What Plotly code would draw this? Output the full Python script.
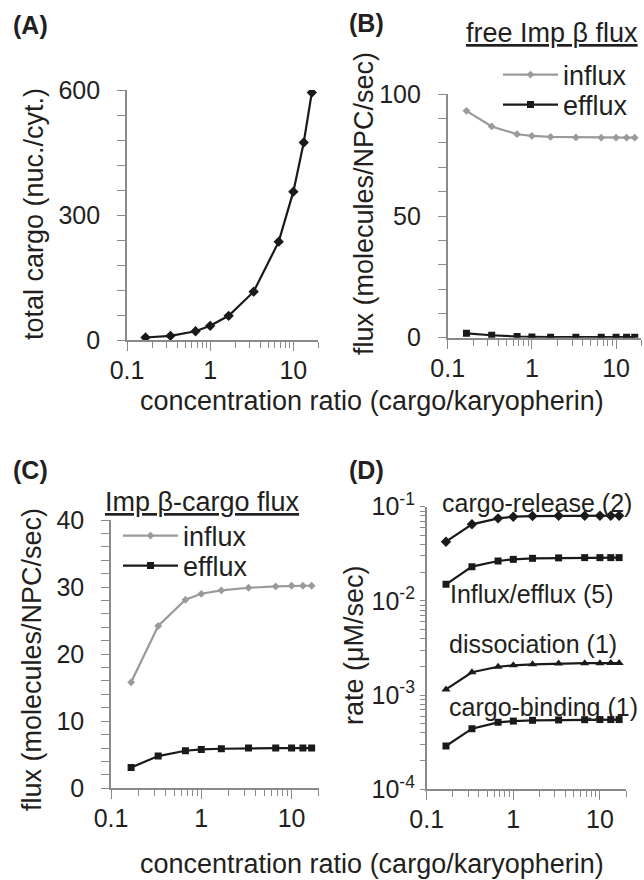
import plotly.graph_objects as go

# ---------------- data ----------------
ratio = [0.167, 0.333, 0.667, 1.0, 1.667, 3.333, 6.667, 10.0, 13.333, 16.667]

total_cargo = [6, 10, 21, 34, 58, 116, 236, 356, 474, 594]

free_influx = [93.2, 86.8, 83.6, 82.9, 82.5, 82.3, 82.2, 82.2, 82.2, 82.2]
free_efflux = [1.8, 1.0, 0.5, 0.3, 0.2, 0.2, 0.2, 0.2, 0.2, 0.2]

cargo_influx = [15.8, 24.2, 28.1, 29.0, 29.5, 29.9, 30.1, 30.2, 30.2, 30.2]
cargo_efflux = [3.1, 4.8, 5.6, 5.8, 5.9, 6.0, 6.0, 6.0, 6.0, 6.0]

rate_release = [0.0425, 0.065, 0.0752, 0.0783, 0.0796, 0.0800, 0.0802, 0.0803, 0.0803, 0.0803]
rate_influx_efflux = [0.0150, 0.0231, 0.0265, 0.0276, 0.0283, 0.0286, 0.0288, 0.0288, 0.0288, 0.0288]
rate_dissociation = [0.00115, 0.00175, 0.00200, 0.00207, 0.00212, 0.00216, 0.00218, 0.00218, 0.00219, 0.00219]
rate_binding = [0.000288, 0.00044, 0.000514, 0.00053, 0.00054, 0.000545, 0.000548, 0.00055, 0.00055, 0.00055]

x_ticks = [0.1, 1, 10]
x_ticktext = ["0.1", "1", "10"]
x_minor = [0.2, 0.3, 0.4, 0.5, 0.6, 0.7, 0.8, 0.9, 2, 3, 4, 5, 6, 7, 8, 9, 20]
d_ticks = [1e-4, 1e-3, 1e-2, 1e-1]
d_ticktext = ["10<sup>-4</sup>", "10<sup>-3</sup>", "10<sup>-2</sup>", "10<sup>-1</sup>"]
d_minor = [m * 10 ** e for e in (-4, -3, -2) for m in range(2, 10)]

# ---------------- styles ----------------
W, H = 644, 880
FONT = "Arial, 'Liberation Sans', sans-serif"
TXT = "#231f20"
AXC = "#8a8a8a"
BLACK = "#1a1a1a"
GRAY = "#9a9a9a"
TICK_SIZE = 25
TITLE_SIZE = 27


def px(x):
    return x / W


def py(y):
    return 1 - y / H


fig = go.Figure()

# Panel A
fig.add_trace(go.Scatter(x=ratio, y=total_cargo, mode="lines+markers", xaxis="x", yaxis="y",
                         line=dict(color=BLACK, width=2.2),
                         marker=dict(symbol="diamond", size=8, color=BLACK), showlegend=False))
# Panel B
fig.add_trace(go.Scatter(x=ratio, y=free_influx, mode="lines+markers", xaxis="x2", yaxis="y2",
                         name="influx", legend="legend",
                         line=dict(color=GRAY, width=2.2),
                         marker=dict(symbol="diamond", size=6, color=GRAY)))
fig.add_trace(go.Scatter(x=ratio, y=free_efflux, mode="lines+markers", xaxis="x2", yaxis="y2",
                         name="efflux", legend="legend2",
                         line=dict(color=BLACK, width=2.2),
                         marker=dict(symbol="square", size=7, color=BLACK)))
# Panel C
fig.add_trace(go.Scatter(x=ratio, y=cargo_influx, mode="lines+markers", xaxis="x3", yaxis="y3",
                         name="influx", legend="legend3",
                         line=dict(color=GRAY, width=2.2),
                         marker=dict(symbol="diamond", size=6, color=GRAY)))
fig.add_trace(go.Scatter(x=ratio, y=cargo_efflux, mode="lines+markers", xaxis="x3", yaxis="y3",
                         name="efflux", legend="legend4",
                         line=dict(color=BLACK, width=2.2),
                         marker=dict(symbol="square", size=7, color=BLACK)))
# Panel D
for ys, sym, sz in [(rate_release, "diamond", 8), (rate_influx_efflux, "square", 7),
                    (rate_dissociation, "triangle-up", 8), (rate_binding, "square", 7)]:
    fig.add_trace(go.Scatter(x=ratio, y=ys, mode="lines+markers", xaxis="x4", yaxis="y4",
                             line=dict(color=BLACK, width=2.2),
                             marker=dict(symbol=sym, size=sz, color=BLACK), showlegend=False))

# ---------------- axes ----------------
def xaxis(domain, anchor):
    return dict(domain=domain, anchor=anchor, type="log", range=[-1, 1.30103],
                tickvals=x_ticks, ticktext=x_ticktext, ticks="outside", ticklen=9,
                tickcolor=AXC, tickwidth=1.3, showline=True, linecolor=AXC, linewidth=1.6,
                showgrid=False, zeroline=False, ticklabelstandoff=-2, automargin=False,
                tickfont=dict(size=TICK_SIZE, color=TXT, family=FONT),
                minor=dict(tickvals=x_minor, ticks="outside", ticklen=6, tickcolor=AXC, tickwidth=1.3,
                           showgrid=False))


def yaxis(domain, anchor, rng, tickvals, minor_dtick):
    return dict(domain=domain, anchor=anchor, range=rng, tickvals=tickvals,
                ticks="outside", ticklen=8, tickcolor=AXC, tickwidth=1.3,
                showline=True, linecolor=AXC, linewidth=1.6, showgrid=False, zeroline=False,
                ticklabelstandoff=12, automargin=False,
                tickfont=dict(size=TICK_SIZE, color=TXT, family=FONT),
                minor=dict(dtick=minor_dtick, tick0=0, ticks="outside", ticklen=8, tickcolor=AXC,
                           tickwidth=1.3, showgrid=False))


dom_a = ([px(127), px(318.4)], [py(340), py(90)])
dom_b = ([px(447.7), px(641.4)], [py(337.7), py(94.3)])
dom_c = ([px(111), px(318.8)], [py(788.3), py(520)])
dom_d = ([px(426.7), px(626)], [py(789.3), py(506.7)])

layout = dict(
    width=W, height=H, margin=dict(l=0, r=0, t=0, b=0, pad=0, autoexpand=False),
    paper_bgcolor="white", plot_bgcolor="white",
    font=dict(family=FONT, color=TXT),
    xaxis=xaxis(dom_a[0], "y"),
    yaxis=yaxis(dom_a[1], "x", [0, 600], [0, 300, 600], 60),
    xaxis2=xaxis(dom_b[0], "y2"),
    yaxis2=yaxis(dom_b[1], "x2", [0, 100], [0, 50, 100], 10),
    xaxis3=xaxis(dom_c[0], "y3"),
    yaxis3=yaxis(dom_c[1], "x3", [0, 40], [0, 10, 20, 30, 40], 2),
    xaxis4=xaxis(dom_d[0], "y4"),
    yaxis4=dict(domain=dom_d[1], anchor="x4", type="log", range=[-4, -1],
                tickvals=d_ticks, ticktext=d_ticktext, ticks="outside", ticklen=5,
                tickcolor=AXC, tickwidth=1.3, showline=True, linecolor=AXC, linewidth=1.6,
                showgrid=False, zeroline=False, ticklabelstandoff=0, automargin=False,
                tickfont=dict(size=TICK_SIZE, color=TXT, family=FONT),
                minor=dict(tickvals=d_minor, ticks="outside", ticklen=5, tickcolor=AXC,
                           tickwidth=1.3, showgrid=False)),
)

leg_common = dict(bgcolor="rgba(0,0,0,0)", borderwidth=0, xanchor="left", yanchor="middle",
                  font=dict(size=TITLE_SIZE, color=TXT, family=FONT), itemwidth=55)
layout["legend"] = dict(leg_common, x=px(498), y=py(75))
layout["legend2"] = dict(leg_common, x=px(498), y=py(105))
layout["legend3"] = dict(leg_common, x=px(118), y=py(536))
layout["legend4"] = dict(leg_common, x=px(118), y=py(566))

fig.update_layout(**layout)

# ---------------- text ----------------
def ann(text, x, y, size=TITLE_SIZE, angle=0, xanchor="center", yanchor="middle"):
    fig.add_annotation(text=text, x=px(x), y=py(y), xref="paper", yref="paper",
                       showarrow=False, textangle=angle, xanchor=xanchor, yanchor=yanchor,
                       font=dict(size=size, color=TXT, family=FONT))


# panel labels
ann("<b>(A)</b>", 11, 25, size=25, xanchor="left")
ann("<b>(B)</b>", 347, 23, size=25, xanchor="left")
ann("<b>(C)</b>", 11, 470, size=25, xanchor="left")
ann("<b>(D)</b>", 347, 470, size=25, xanchor="left")

# axis titles
ann("total cargo (nuc./cyt.)", 34, 214, angle=-90)
ann("flux (molecules/NPC/sec)", 364, 204, angle=-90)
ann("flux (molecules/NPC/sec)", 32, 660, angle=-90)
ann("rate (μM/sec)", 354, 645, angle=-90)
ann("concentration ratio (cargo/karyopherin)", 372, 401)
ann("concentration ratio (cargo/karyopherin)", 372, 864)

# legend headings
ann("<u>free Imp β flux</u>", 552, 33)
ann("<u>Imp β-cargo flux</u>", 202, 502)

# panel D series labels
ann("cargo-release (2)", 537, 503, size=25)
ann("Influx/efflux (5)", 532, 594, size=25)
ann("dissociation (1)", 533, 644, size=25)
ann("cargo-binding (1)", 543, 707, size=25)

fig.write_html("out.html", config={"displayModeBar": False},
               post_script="document.body.style.margin='0';document.body.style.padding='0';"
                           "document.body.style.overflow='hidden';")
